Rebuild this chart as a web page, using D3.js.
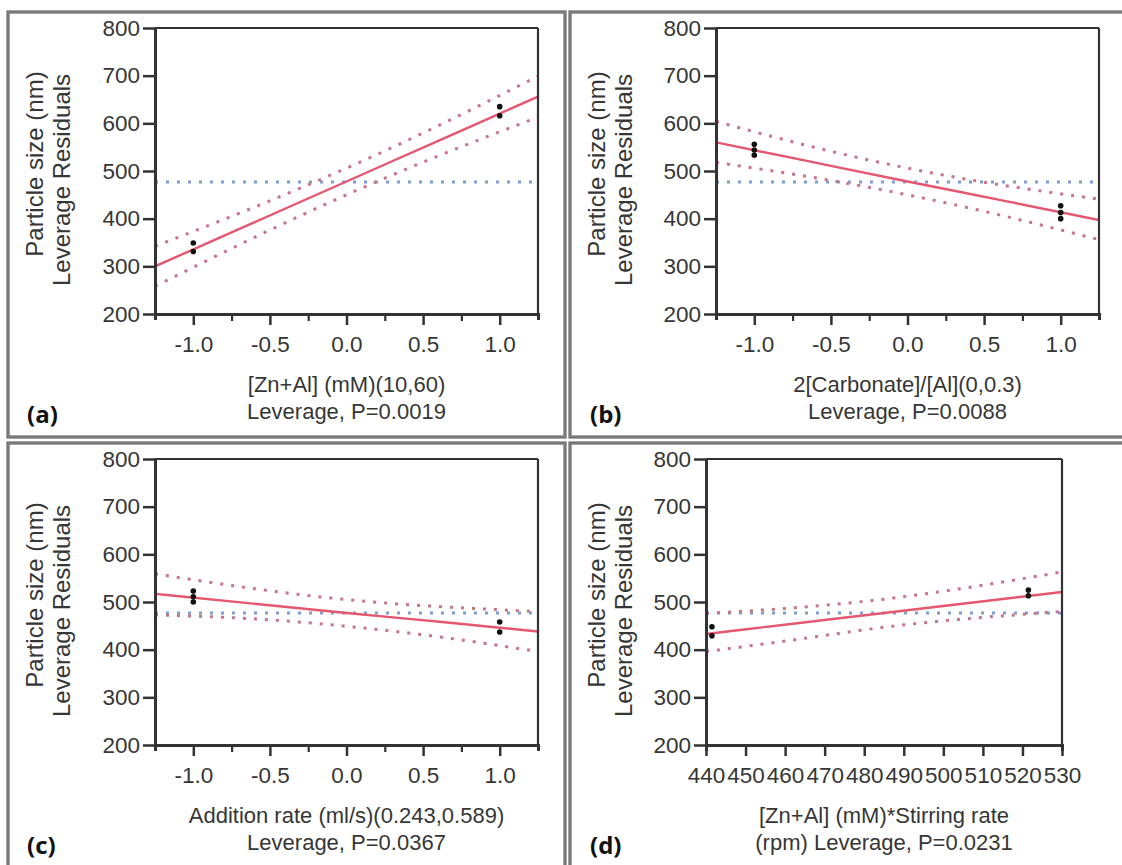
<!DOCTYPE html>
<html>
<head>
<meta charset="utf-8">
<script src="https://cdn.jsdelivr.net/npm/d3@7"></script>
<style>
  body { margin: 0; background: #fff; }
  text { font-family: "Liberation Sans", Arial, sans-serif; fill: #363636; }
  .axis text { font-size: 22.5px; }
  .axis path, .axis line { stroke: #333; }
</style>
</head>
<body>
<div id="chart"></div>
<script>
// values
const yTicks = [200, 300, 400, 500, 600, 700, 800];
const xTicksCoded = [-1, -0.5, 0, 0.5, 1];
const xMinorCoded = [-0.75, -0.25, 0.25, 0.75];
const xTicksD = [440, 450, 460, 470, 480, 490, 500, 510, 520, 530];
const meanLine = 477;

// x positions where the fit and confidence curves were read
const bandXCoded = [-1.25, -0.625, 0, 0.625, 1.25];
const bandXD = [440, 462.5, 485, 507.5, 530];

// (a) [Zn+Al]
const fitA = [300, 389, 478, 567, 656];
const upperA = [342, 421, 506, 599, 699];
const lowerA = [258, 357, 450, 535, 613];
const ptXA = [-1, -1, 1, 1];
const ptYA = [349, 331, 635, 616];

// (b) carbonate
const fitB = [560, 519, 478, 438, 397];
const upperB = [604, 551, 506, 470, 441];
const lowerB = [518, 487, 450, 406, 356];
const ptXB = [-1, -1, -1, 1, 1, 1];
const ptYB = [556, 544, 533, 427, 413, 400];

// (c) addition rate
const fitC = [517, 497, 477, 458, 438];
const upperC = [559, 529, 505, 490, 480];
const lowerC = [473, 465, 449, 426, 396];
const ptXC = [-1, -1, -1, 1, 1];
const ptYC = [523, 511, 500, 458, 437];

// (d) interaction
const fitD = [433, 455, 477, 499, 521];
const upperD = [476, 488, 506, 532, 563];
const lowerD = [396, 421, 447, 466, 480];
const ptXD = [441.5, 441.5, 521.5, 521.5];
const ptYD = [448, 429, 525, 513];

const titleA = ["[Zn+Al] (mM)(10,60)", "Leverage, P=0.0019"];
const titleB = ["2[Carbonate]/[Al](0,0.3)", "Leverage, P=0.0088"];
const titleC = ["Addition rate (ml/s)(0.243,0.589)", "Leverage, P=0.0367"];
const titleD = ["[Zn+Al] (mM)*Stirring rate", "(rpm) Leverage, P=0.0231"];
const yTitle = ["Particle size (nm)", "Leverage Residuals"];

const svg = d3.select("#chart").append("svg")
  .attr("width", 1122).attr("height", 865);

const fmt1 = d => d.toFixed(1);
const fmt0 = d => String(d);

const panels = [
  {px: 8, py: 12, left: 147, w: 383, domain: [-1.25, 1.25], ticks: xTicksCoded, minor: xMinorCoded, fmt: fmt1,
   bx: bandXCoded, fit: fitA, up: upperA, lo: lowerA, ptX: ptXA, ptY: ptYA, title: titleA, label: "(a)"},
  {px: 570, py: 12, left: 146, w: 383, domain: [-1.25, 1.25], ticks: xTicksCoded, minor: xMinorCoded, fmt: fmt1,
   bx: bandXCoded, fit: fitB, up: upperB, lo: lowerB, ptX: ptXB, ptY: ptYB, title: titleB, label: "(b)"},
  {px: 8, py: 443, left: 147, w: 383, domain: [-1.25, 1.25], ticks: xTicksCoded, minor: xMinorCoded, fmt: fmt1,
   bx: bandXCoded, fit: fitC, up: upperC, lo: lowerC, ptX: ptXC, ptY: ptYC, title: titleC, label: "(c)"},
  {px: 570, py: 443, left: 136, w: 356, domain: [440, 530], ticks: xTicksD, minor: [], fmt: fmt0,
   bx: bandXD, fit: fitD, up: upperD, lo: lowerD, ptX: ptXD, ptY: ptYD, title: titleD, label: "(d)"}
];

const plotTop = 16, plotH = 286;

panels.forEach(function(p, i) {
  const pg = svg.append("g").attr("transform", "translate(" + p.px + "," + p.py + ")");

  // panel frame (double grey line)
  pg.append("rect")
    .attr("x", 0).attr("y", 0).attr("width", 557).attr("height", 425)
    .attr("fill", "none").attr("stroke", "#4d4d4d").attr("stroke-width", 3);
  pg.append("rect")
    .attr("x", 0).attr("y", 0).attr("width", 557).attr("height", 425)
    .attr("fill", "none").attr("stroke", "#bbb").attr("stroke-width", 0.8);

  const x = d3.scaleLinear().domain(p.domain).range([0, p.w]);
  const y = d3.scaleLinear().domain([200, 800]).range([plotH, 0]);

  const g = pg.append("g").attr("transform", "translate(" + p.left + "," + plotTop + ")");

  g.append("defs").append("clipPath").attr("id", "clip" + i)
    .append("rect").attr("width", p.w).attr("height", plotH);

  const marks = g.append("g").attr("clip-path", "url(#clip" + i + ")");

  // mean line
  marks.append("line")
    .attr("x1", 0).attr("x2", p.w)
    .attr("y1", y(meanLine)).attr("y2", y(meanLine))
    .attr("stroke", "#7d9bd6").attr("stroke-width", 3)
    .attr("stroke-dasharray", "3 8");

  const band = d3.line()
    .x(d => x(d[0])).y(d => y(d[1]))
    .curve(d3.curveNatural);

  [p.up, p.lo].forEach(function(vals) {
    marks.append("path")
      .attr("d", band(p.bx.map((v, j) => [v, vals[j]])))
      .attr("fill", "none").attr("stroke", "#c97387").attr("stroke-width", 3)
      .attr("stroke-dasharray", "3 8");
  });

  marks.append("path")
    .attr("d", band(p.bx.map((v, j) => [v, p.fit[j]])))
    .attr("fill", "none").attr("stroke", "#e5566f").attr("stroke-width", 2.4);

  marks.selectAll("circle")
    .data(p.ptX.map((v, j) => [v, p.ptY[j]]))
    .enter().append("circle")
      .attr("cx", d => x(d[0])).attr("cy", d => y(d[1]))
      .attr("r", 2.8).attr("fill", "#111");

  // frame top / right
  g.append("line").attr("x1", 0).attr("x2", p.w).attr("y1", 0).attr("y2", 0)
    .attr("stroke", "#333").attr("stroke-width", 2.2);
  g.append("line").attr("x1", p.w).attr("x2", p.w).attr("y1", 0).attr("y2", plotH)
    .attr("stroke", "#333").attr("stroke-width", 2.2);

  // axes
  if (p.minor.length) {
    g.append("g")
      .attr("class", "axis")
      .attr("transform", "translate(0," + plotH + ")")
      .call(d3.axisBottom(x).tickValues(p.minor).tickSize(7).tickFormat(""))
      .call(a => a.select(".domain").remove())
      .selectAll("line").attr("stroke-width", 2.2);
  }

  const xa = g.append("g")
    .attr("class", "axis")
    .attr("transform", "translate(0," + plotH + ")")
    .call(d3.axisBottom(x).tickValues(p.ticks).tickSize(11).tickSizeOuter(6)
      .tickPadding(11).tickFormat(p.fmt));
  xa.select(".domain").attr("stroke-width", 3);
  xa.selectAll(".tick line").attr("stroke-width", 2.5);
  xa.selectAll("text").attr("fill", "#363636");

  const ya = g.append("g")
    .attr("class", "axis")
    .call(d3.axisLeft(y).tickValues(yTicks).tickSize(12).tickSizeOuter(0)
      .tickPadding(3).tickFormat(fmt0));
  ya.select(".domain").attr("stroke-width", 3);
  ya.selectAll(".tick line").attr("stroke-width", 2.5);
  ya.selectAll("text").attr("fill", "#363636");

  // y title, two rotated lines
  pg.append("text")
    .attr("transform", "translate(34.5,152)rotate(-90)")
    .attr("text-anchor", "middle").style("font-size", "24px")
    .text(yTitle[0]);
  pg.append("text")
    .attr("transform", "translate(62,168)rotate(-90)")
    .attr("text-anchor", "middle").style("font-size", "24px")
    .text(yTitle[1]);

  // x title
  p.title.forEach(function(t, j) {
    pg.append("text")
      .attr("x", p.left + p.w / 2).attr("y", 380 + j * 27)
      .attr("text-anchor", "middle").style("font-size", "22px")
      .text(t);
  });

  // panel label
  pg.append("text")
    .attr("x", i % 2 ? 20 : 19).attr("y", 411)
    .style("font-family", "'Open Sans', 'Liberation Sans', sans-serif")
    .style("font-weight", "bold").style("font-size", "24px")
    .style("fill", "#111")
    .text(p.label);
});
</script>
</body>
</html>
